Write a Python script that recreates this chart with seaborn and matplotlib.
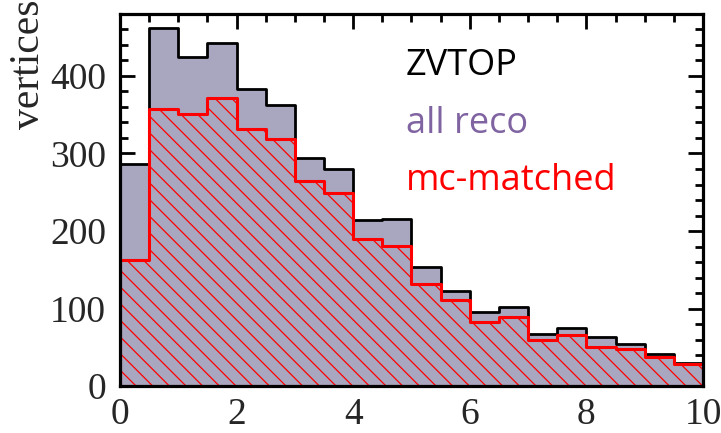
import numpy as np
import pandas as pd
import seaborn as sns
import matplotlib
matplotlib.use("Agg")
import matplotlib.pyplot as plt
from matplotlib.ticker import MultipleLocator

# Data
bin_edges = [0.0, 0.5, 1.0, 1.5, 2.0, 2.5, 3.0, 3.5, 4.0, 4.5, 5.0,
             5.5, 6.0, 6.5, 7.0, 7.5, 8.0, 8.5, 9.0, 9.5, 10.0]
all_reco = [287, 462, 425, 442, 383, 363, 294, 280, 214, 215,
            153, 122, 96, 102, 67, 75, 63, 54, 41, 30]
mc_matched = [162, 357, 351, 371, 331, 319, 265, 249, 190, 181,
              132, 111, 82, 89, 60, 66, 50, 48, 38, 28]
legend_labels = ["ZVTOP", "all reco", "mc-matched"]

edges = np.array(bin_edges)
centers = (edges[:-1] + edges[1:]) / 2
df = pd.DataFrame({"x": centers, "all": all_reco, "mc": mc_matched})

sns.set_style("ticks")
plt.rcParams["hatch.color"] = "red"
plt.rcParams["hatch.linewidth"] = 0.9

fig = plt.figure(figsize=(7.21, 4.33), dpi=100)
ax = fig.add_axes([0.1664, 0.1085, 0.8086, 0.8592])

sns.histplot(data=df, x="x", weights="all", bins=list(bin_edges), element="step",
             fill=True, color="#a9a6bf", alpha=1.0, edgecolor="black",
             linewidth=2.0, ax=ax)
n_before = len(ax.collections)
sns.histplot(data=df, x="x", weights="mc", bins=list(bin_edges), element="step",
             fill=True, color="red", alpha=1.0, edgecolor="red",
             linewidth=2.2, ax=ax)
for coll in ax.collections[n_before:]:
    coll.set_facecolor("none")
    coll.set_hatch("\\\\")
    coll.set_edgecolor("red")

ax.set_xlim(0, 10)
ax.set_ylim(0, 480)
ax.xaxis.set_major_locator(MultipleLocator(2))
ax.xaxis.set_minor_locator(MultipleLocator(0.5))
ax.yaxis.set_major_locator(MultipleLocator(100))
ax.yaxis.set_minor_locator(MultipleLocator(20))
ax.tick_params(which="both", direction="in", top=True, right=True,
               width=2.0, color="black")
ax.tick_params(which="major", length=11, labelsize=27)
ax.tick_params(which="minor", length=6)
ax.tick_params(axis="x", which="major", pad=8)
ax.tick_params(axis="y", which="major", pad=10)
for lab in ax.get_xticklabels() + ax.get_yticklabels():
    lab.set_fontfamily("Liberation Serif")
for s in ax.spines.values():
    s.set_linewidth(2.3)
    s.set_color("black")

ax.set_xlabel("")
ax.set_ylabel("vertices", loc="top", fontsize=30, family="Liberation Serif")
ax.yaxis.set_label_coords(-0.124, 1.04)

ax.text(0.49, 0.86, legend_labels[0], transform=ax.transAxes, fontsize=26,
        color="black", family="Open Sans", va="center")
ax.text(0.49, 0.705, legend_labels[1], transform=ax.transAxes, fontsize=26,
        color="#8064a2", family="Open Sans", va="center")
ax.text(0.49, 0.55, legend_labels[2], transform=ax.transAxes, fontsize=26,
        color="red", family="Open Sans", va="center")

fig.savefig("out.png", dpi=100)
